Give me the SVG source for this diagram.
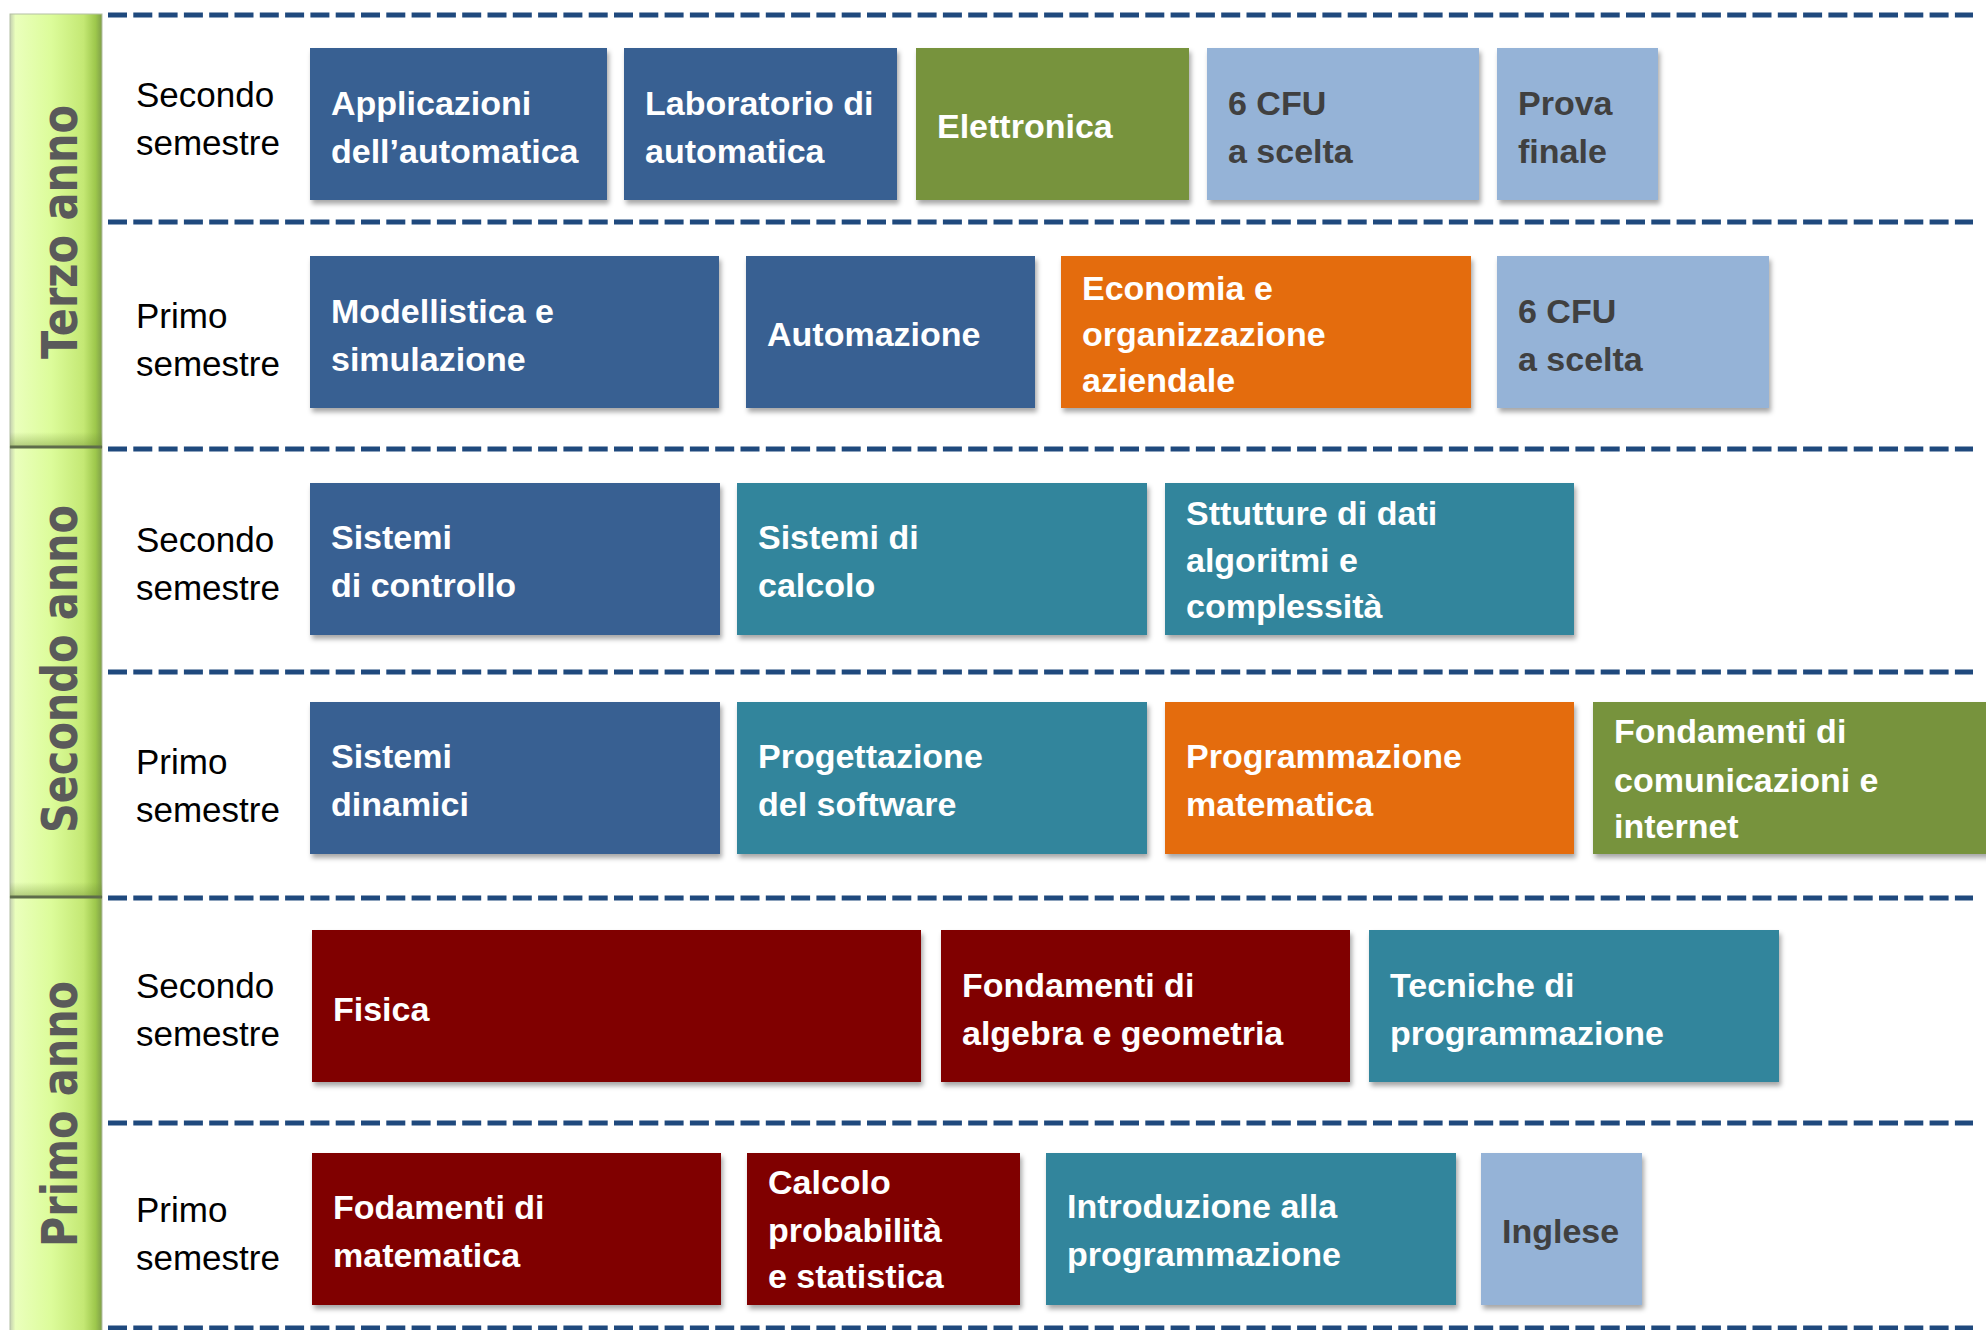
<svg xmlns="http://www.w3.org/2000/svg" width="1986" height="1330" viewBox="0 0 1986 1330">
<defs>
<style>
.lbl{font-family:'Liberation Sans',Arial,sans-serif;font-size:35px;fill:#000}
.bt{font-family:'Liberation Sans',Arial,sans-serif;font-size:34px;font-weight:bold;fill:#fff}
.dk{fill:#404040}
.yr{font-family:'DejaVu Sans',Verdana,sans-serif;font-weight:bold;font-size:50px;fill:#5a5a5a}
.sep{stroke:#1f497d;stroke-width:5;stroke-dasharray:19 6.3;fill:none}
.db{fill:#376092}.te{fill:#31859c}.gr{fill:#77933c}.or{fill:#e46c0a}.lb{fill:#95b3d7}.rd{fill:#800000}
.box{filter:url(#sh)}
.seg{fill:url(#gbar);stroke:#b4bfa4;stroke-width:1}
.segsh{fill:url(#gshade)}
.ysep{stroke:#5e6c4a;stroke-width:3}
</style>
<filter id="sh" x="-5%" y="-5%" width="115%" height="125%">
<feDropShadow dx="2" dy="4" stdDeviation="2.5" flood-color="#000" flood-opacity="0.35"/>
</filter>
<linearGradient id="gbar" x1="0" x2="1" y1="0" y2="0">
<stop offset="0" stop-color="#c4d0b0"/>
<stop offset="0.06" stop-color="#eaffbc"/>
<stop offset="0.45" stop-color="#dcfc9a"/>
<stop offset="0.8" stop-color="#c4e874"/>
<stop offset="0.93" stop-color="#9dc74c"/>
<stop offset="1" stop-color="#7f9f4a"/>
</linearGradient>
<linearGradient id="gshade" x1="0" x2="0" y1="0" y2="1">
<stop offset="0" stop-color="#6b8a30" stop-opacity="0"/>
<stop offset="1" stop-color="#6b8a30" stop-opacity="0.45"/>
</linearGradient>
</defs>
<rect width="1986" height="1330" fill="#fff"/>

<g id="year-bar">
<rect class="seg" x="10" y="14" width="92" height="433"/>
<rect class="seg" x="10" y="447" width="92" height="450"/>
<rect class="seg" x="10" y="897" width="92" height="440"/>
<rect class="segsh" x="10" y="432" width="92" height="15"/>
<rect class="segsh" x="10" y="882" width="92" height="15"/>
<line class="ysep" x1="10" y1="447" x2="102" y2="447"/>
<line class="ysep" x1="10" y1="897" x2="102" y2="897"/>
<text class="yr" transform="translate(77,232) rotate(-90)" text-anchor="middle" textLength="254" lengthAdjust="spacingAndGlyphs">Terzo anno</text>
<text class="yr" transform="translate(77,669) rotate(-90)" text-anchor="middle" textLength="328" lengthAdjust="spacingAndGlyphs">Secondo anno</text>
<text class="yr" transform="translate(77,1114) rotate(-90)" text-anchor="middle" textLength="266" lengthAdjust="spacingAndGlyphs">Primo anno</text>
</g>

<g id="separators">
<line class="sep" x1="108" y1="15" x2="1973" y2="15"/>
<line class="sep" x1="108" y1="222" x2="1973" y2="222"/>
<line class="sep" x1="108" y1="449" x2="1973" y2="449"/>
<line class="sep" x1="108" y1="672" x2="1973" y2="672"/>
<line class="sep" x1="108" y1="898" x2="1973" y2="898"/>
<line class="sep" x1="108" y1="1123" x2="1973" y2="1123"/>
<line class="sep" x1="108" y1="1328" x2="1973" y2="1328"/>
</g>

<g id="semester-labels">
<text class="lbl" x="136" y="107">Secondo</text><text class="lbl" x="136" y="155">semestre</text>
<text class="lbl" x="136" y="328">Primo</text><text class="lbl" x="136" y="376">semestre</text>
<text class="lbl" x="136" y="552">Secondo</text><text class="lbl" x="136" y="600">semestre</text>
<text class="lbl" x="136" y="774">Primo</text><text class="lbl" x="136" y="822">semestre</text>
<text class="lbl" x="136" y="998">Secondo</text><text class="lbl" x="136" y="1046">semestre</text>
<text class="lbl" x="136" y="1222">Primo</text><text class="lbl" x="136" y="1270">semestre</text>
</g>

<g id="n_appl"><rect class="box db" x="310" y="48" width="297" height="152"/><text class="bt" x="331" y="115">Applicazioni</text><text class="bt" x="331" y="163">dell’automatica</text></g>
<g id="n_lab"><rect class="box db" x="624" y="48" width="273" height="152"/><text class="bt" x="645" y="115">Laboratorio di</text><text class="bt" x="645" y="163">automatica</text></g>
<g id="n_elet"><rect class="box gr" x="916" y="48" width="273" height="152"/><text class="bt" x="937" y="138">Elettronica</text></g>
<g id="n_cfu3b"><rect class="box lb" x="1207" y="48" width="272" height="152"/><text class="bt dk" x="1228" y="115">6 CFU</text><text class="bt dk" x="1228" y="163">a scelta</text></g>
<g id="n_prova"><rect class="box lb" x="1497" y="48" width="161" height="152"/><text class="bt dk" x="1518" y="115">Prova</text><text class="bt dk" x="1518" y="163">finale</text></g>

<g id="n_mod"><rect class="box db" x="310" y="256" width="409" height="152"/><text class="bt" x="331" y="323">Modellistica e</text><text class="bt" x="331" y="371">simulazione</text></g>
<g id="n_autom"><rect class="box db" x="746" y="256" width="289" height="152"/><text class="bt" x="767" y="346">Automazione</text></g>
<g id="n_econ"><rect class="box or" x="1061" y="256" width="410" height="152"/><text class="bt" x="1082" y="300">Economia e</text><text class="bt" x="1082" y="346">organizzazione</text><text class="bt" x="1082" y="392">aziendale</text></g>
<g id="n_cfu3a"><rect class="box lb" x="1497" y="256" width="272" height="152"/><text class="bt dk" x="1518" y="323">6 CFU</text><text class="bt dk" x="1518" y="371">a scelta</text></g>

<g id="n_sctrl"><rect class="box db" x="310" y="483" width="410" height="152"/><text class="bt" x="331" y="549">Sistemi</text><text class="bt" x="331" y="597">di controllo</text></g>
<g id="n_scalc"><rect class="box te" x="737" y="483" width="410" height="152"/><text class="bt" x="758" y="549">Sistemi di</text><text class="bt" x="758" y="597">calcolo</text></g>
<g id="n_strut"><rect class="box te" x="1165" y="483" width="409" height="152"/><text class="bt" x="1186" y="525">Sttutture di dati</text><text class="bt" x="1186" y="572">algoritmi e</text><text class="bt" x="1186" y="618">complessità</text></g>

<g id="n_sdin"><rect class="box db" x="310" y="702" width="410" height="152"/><text class="bt" x="331" y="768">Sistemi</text><text class="bt" x="331" y="816">dinamici</text></g>
<g id="n_prog"><rect class="box te" x="737" y="702" width="410" height="152"/><text class="bt" x="758" y="768">Progettazione</text><text class="bt" x="758" y="816">del software</text></g>
<g id="n_pmat"><rect class="box or" x="1165" y="702" width="409" height="152"/><text class="bt" x="1186" y="768">Programmazione</text><text class="bt" x="1186" y="816">matematica</text></g>
<g id="n_fcom"><rect class="box gr" x="1593" y="702" width="400" height="152"/><text class="bt" x="1614" y="743">Fondamenti di</text><text class="bt" x="1614" y="792">comunicazioni e</text><text class="bt" x="1614" y="838">internet</text></g>

<g id="n_fis"><rect class="box rd" x="312" y="930" width="609" height="152"/><text class="bt" x="333" y="1021">Fisica</text></g>
<g id="n_alg"><rect class="box rd" x="941" y="930" width="409" height="152"/><text class="bt" x="962" y="997">Fondamenti di</text><text class="bt" x="962" y="1045">algebra e geometria</text></g>
<g id="n_tec"><rect class="box te" x="1369" y="930" width="410" height="152"/><text class="bt" x="1390" y="997">Tecniche di</text><text class="bt" x="1390" y="1045">programmazione</text></g>

<g id="n_fmat"><rect class="box rd" x="312" y="1153" width="409" height="152"/><text class="bt" x="333" y="1219">Fodamenti di</text><text class="bt" x="333" y="1267">matematica</text></g>
<g id="n_calc"><rect class="box rd" x="747" y="1153" width="273" height="152"/><text class="bt" x="768" y="1194">Calcolo</text><text class="bt" x="768" y="1242">probabilità</text><text class="bt" x="768" y="1288">e statistica</text></g>
<g id="n_intro"><rect class="box te" x="1046" y="1153" width="410" height="152"/><text class="bt" x="1067" y="1218">Introduzione alla</text><text class="bt" x="1067" y="1266">programmazione</text></g>
<g id="n_ing"><rect class="box lb" x="1481" y="1153" width="161" height="152"/><text class="bt dk" x="1502" y="1243">Inglese</text></g>
</svg>
